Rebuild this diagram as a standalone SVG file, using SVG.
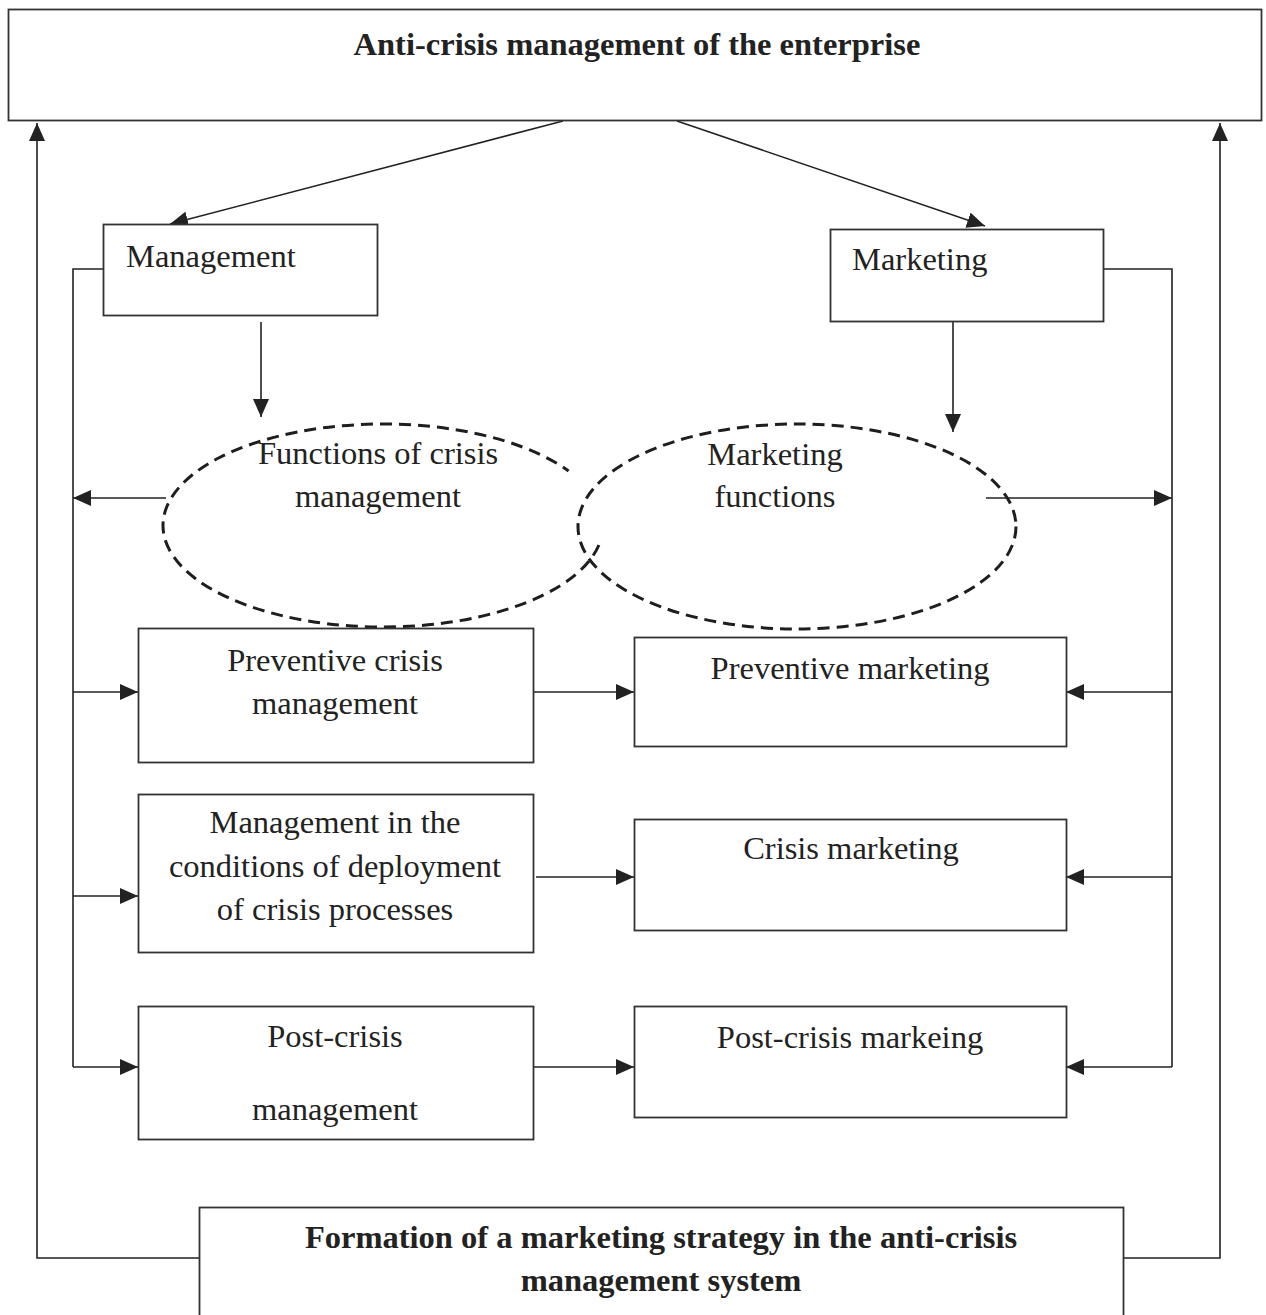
<svg xmlns="http://www.w3.org/2000/svg" width="1266" height="1315" viewBox="0 0 1266 1315">
  <style>
    .box { fill: #ffffff; stroke: #333333; stroke-width: 1.8; }
    .oval { fill: none; stroke: #1e1e1e; stroke-width: 3; stroke-dasharray: 12 7; }
    .wire { fill: none; stroke: #222222; stroke-width: 1.6; }
    .arr { marker-end: url(#ah); }
    .t { font-family: "Liberation Serif", "Times New Roman", serif; font-size: 32.5px; fill: #222222; }
    .c { text-anchor: middle; }
    .b { font-weight: bold; }
  </style>
  <defs>
    <marker id="ah" markerUnits="userSpaceOnUse" markerWidth="18" markerHeight="16" refX="18" refY="8" orient="auto">
      <path d="M0,0 L18,8 L0,16 z" fill="#222222"/>
    </marker>
  </defs>

  <rect width="1266" height="1315" fill="#ffffff"/>

  <!-- connectors -->
  <g id="connectors">
    <line class="wire arr" x1="563" y1="121" x2="170" y2="224"/>
    <line class="wire arr" x1="677" y1="121" x2="985" y2="226"/>
    <line class="wire arr" x1="261" y1="322" x2="261" y2="417"/>
    <line class="wire arr" x1="953" y1="322" x2="953" y2="432"/>

    <!-- outer feedback loops to the top box -->
    <polyline class="wire arr" points="199,1258 37,1258 37,123"/>
    <polyline class="wire arr" points="1123,1258 1220,1258 1220,123"/>

    <!-- left spine from Management -->
    <polyline class="wire" points="103,269 73,269 73,1067"/>
    <line class="wire arr" x1="166" y1="498" x2="73" y2="498"/>
    <line class="wire arr" x1="73" y1="692" x2="138" y2="692"/>
    <line class="wire arr" x1="73" y1="896" x2="138" y2="896"/>
    <line class="wire arr" x1="73" y1="1067" x2="138" y2="1067"/>

    <!-- right spine from Marketing -->
    <polyline class="wire" points="1103,269 1172,269 1172,1067"/>
    <line class="wire arr" x1="986" y1="498" x2="1172" y2="498"/>
    <line class="wire arr" x1="1172" y1="692" x2="1066" y2="692"/>
    <line class="wire arr" x1="1172" y1="877" x2="1066" y2="877"/>
    <line class="wire arr" x1="1172" y1="1067" x2="1066" y2="1067"/>

    <!-- management to marketing rows -->
    <line class="wire arr" x1="533" y1="692" x2="634" y2="692"/>
    <line class="wire arr" x1="536" y1="877" x2="634" y2="877"/>
    <line class="wire arr" x1="533" y1="1067" x2="634" y2="1067"/>
  </g>

  <g id="anti-crisis-management">
    <rect class="box" x="8.5" y="9.5" width="1253" height="111"/>
    <text class="t c b" x="637" y="55">Anti-crisis management of the enterprise</text>
  </g>

  <g id="management">
    <rect class="box" x="103.5" y="224.5" width="274" height="91"/>
    <text class="t" x="126" y="267">Management</text>
  </g>

  <g id="marketing">
    <rect class="box" x="830.5" y="229.5" width="273" height="92"/>
    <text class="t" x="852" y="270">Marketing</text>
  </g>

  <g id="functions-of-crisis-management">
    <path class="oval" d="M598.9,545 A220,101.5 0 1 1 568.6,471"/>
    <text class="t c" x="378" y="464">Functions of crisis</text>
    <text class="t c" x="378" y="507">management</text>
  </g>

  <g id="marketing-functions">
    <ellipse class="oval" cx="797" cy="526.5" rx="219" ry="102.5"/>
    <text class="t c" x="775" y="465">Marketing</text>
    <text class="t c" x="775" y="507">functions</text>
  </g>

  <g id="preventive-crisis-management">
    <rect class="box" x="138.5" y="628.5" width="395" height="134"/>
    <text class="t c" x="335" y="671">Preventive crisis</text>
    <text class="t c" x="335" y="714">management</text>
  </g>

  <g id="preventive-marketing">
    <rect class="box" x="634.5" y="637.5" width="432" height="109"/>
    <text class="t c" x="850" y="679">Preventive marketing</text>
  </g>

  <g id="management-in-crisis">
    <rect class="box" x="138.5" y="794.5" width="395" height="158"/>
    <text class="t c" x="335" y="833">Management in the</text>
    <text class="t c" x="335" y="877">conditions of deployment</text>
    <text class="t c" x="335" y="920">of crisis processes</text>
  </g>

  <g id="crisis-marketing">
    <rect class="box" x="634.5" y="819.5" width="432" height="111"/>
    <text class="t c" x="851" y="859">Crisis marketing</text>
  </g>

  <g id="post-crisis-management">
    <rect class="box" x="138.5" y="1006.5" width="395" height="133"/>
    <text class="t c" x="335" y="1047">Post-crisis</text>
    <text class="t c" x="335" y="1120">management</text>
  </g>

  <g id="post-crisis-marketing">
    <rect class="box" x="634.5" y="1006.5" width="432" height="111"/>
    <text class="t c" x="850" y="1048">Post-crisis markeing</text>
  </g>

  <g id="marketing-strategy">
    <rect class="box" x="199.5" y="1207.5" width="924" height="120"/>
    <text class="t c b" x="661" y="1248">Formation of a marketing strategy in the anti-crisis</text>
    <text class="t c b" x="661" y="1291">management system</text>
  </g>
</svg>
